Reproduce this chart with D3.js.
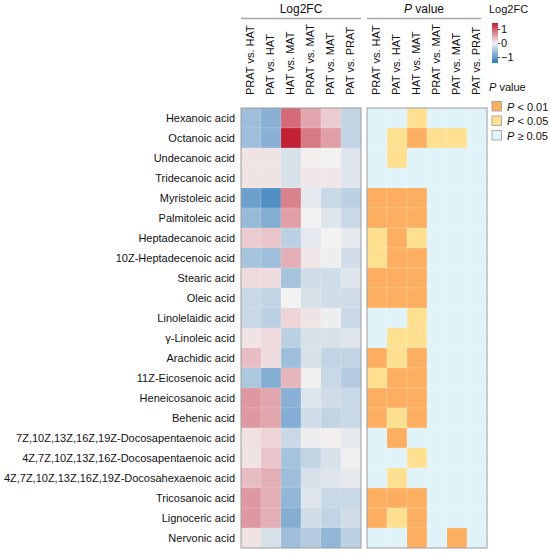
<!DOCTYPE html>
<html>
<head>
<meta charset="utf-8">
<script src="https://cdn.jsdelivr.net/npm/d3@7"></script>
<style>
  body { margin: 0; background: #fff; }
  text { font-family: "Liberation Sans", Arial, sans-serif; fill: #111; }
</style>
</head>
<body>
<svg id="chart" width="550" height="554"></svg>
<script>
/* data */
const acids = [
  "Hexanoic acid", "Octanoic acid", "Undecanoic acid", "Tridecanoic acid",
  "Myristoleic acid", "Palmitoleic acid", "Heptadecanoic acid", "10Z-Heptadecenoic acid",
  "Stearic acid", "Oleic acid", "Linolelaidic acid", "γ-Linoleic acid",
  "Arachidic acid", "11Z-Eicosenoic acid", "Heneicosanoic acid", "Behenic acid",
  "7Z,10Z,13Z,16Z,19Z-Docosapentaenoic acid", "4Z,7Z,10Z,13Z,16Z-Docosapentaenoic acid",
  "4Z,7Z,10Z,13Z,16Z,19Z-Docosahexaenoic acid", "Tricosanoic acid",
  "Lignoceric acid", "Nervonic acid"
];
const comparisons = ["PRAT vs. HAT", "PAT vs. HAT", "HAT vs. MAT", "PRAT vs. MAT", "PAT vs. MAT", "PAT vs. PRAT"];

// log2 fold change, one row per acid, columns follow comparisons
const log2fc = [
  [-0.6, -0.75, 0.9, 0.5, 0.25, -0.35],
  [-0.6, -0.75, 1.4, 0.8, 0.55, -0.35],
  [0.1, 0.1, -0.2, 0.02, 0.0, -0.15],
  [0.1, 0.1, -0.2, 0.08, 0.08, -0.15],
  [-0.95, -1.15, 0.75, -0.1, -0.3, -0.4],
  [-0.65, -0.8, 0.55, 0.0, -0.15, -0.3],
  [0.25, 0.3, -0.4, -0.1, 0.0, -0.1],
  [-0.55, -0.6, 0.45, 0.08, -0.05, -0.25],
  [0.15, 0.15, -0.55, -0.25, -0.25, -0.15],
  [-0.3, -0.35, 0.0, -0.2, -0.25, -0.25],
  [-0.3, -0.4, 0.2, 0.1, -0.05, -0.3],
  [0.1, 0.15, -0.4, -0.2, -0.2, -0.15],
  [0.35, 0.15, -0.6, -0.2, -0.35, -0.35],
  [-0.5, -0.8, 0.4, -0.02, -0.3, -0.45],
  [0.6, 0.5, -0.75, -0.15, -0.25, -0.3],
  [0.6, 0.5, -0.8, -0.25, -0.35, -0.3],
  [0.12, 0.2, -0.3, -0.05, 0.03, -0.1],
  [0.1, 0.3, -0.55, -0.35, -0.2, -0.03],
  [0.35, 0.45, -0.6, -0.2, -0.15, -0.1],
  [0.6, 0.45, -0.7, -0.15, -0.3, -0.3],
  [0.6, 0.45, -0.8, -0.25, -0.35, -0.25],
  [0.1, -0.2, -0.6, -0.45, -0.7, -0.4]
];

// significance class: 2 = P < 0.01, 1 = P < 0.05, 0 = P >= 0.05
const pClass = [
  [0, 0, 1, 0, 0, 0],
  [0, 1, 2, 1, 1, 0],
  [0, 1, 0, 0, 0, 0],
  [0, 0, 0, 0, 0, 0],
  [2, 2, 2, 0, 0, 0],
  [2, 2, 2, 0, 0, 0],
  [1, 2, 1, 0, 0, 0],
  [1, 2, 2, 0, 0, 0],
  [2, 2, 2, 0, 0, 0],
  [2, 2, 2, 0, 0, 0],
  [0, 0, 1, 0, 0, 0],
  [0, 1, 1, 0, 0, 0],
  [2, 1, 2, 0, 0, 0],
  [1, 2, 2, 0, 0, 0],
  [2, 2, 2, 0, 0, 0],
  [2, 1, 2, 0, 0, 0],
  [0, 2, 0, 0, 0, 0],
  [0, 0, 1, 0, 0, 0],
  [0, 1, 0, 0, 0, 0],
  [2, 2, 2, 0, 0, 0],
  [2, 1, 2, 0, 0, 0],
  [0, 0, 2, 0, 2, 0]
];
const pLabels = ["< 0.01", "< 0.05", "≥ 0.05"];
const fcTicks = [-1, 0, 1];

/* layout */
const svg = d3.select("#chart");
const topY = 108, bottomY = 548;
const leftPanel = [241, 361];
const rightPanel = [367, 487];

const y = d3.scaleBand().domain(acids).range([topY, bottomY]);
const xL = d3.scaleBand().domain(comparisons).range(leftPanel);
const xR = d3.scaleBand().domain(comparisons).range(rightPanel);

const fcMax = 1.43;
const color = d3.scaleLinear()
  .domain([-fcMax, 0, fcMax])
  .range(["#2b77ba", "#f3f2f2", "#c11b30"])
  .interpolate(d3.interpolateRgb)
  .clamp(true);
const pColor = d3.scaleOrdinal().domain([2, 1, 0]).range(["#fdae61", "#fee090", "#e0f3f8"]);

const cellsFC = [], cellsP = [];
acids.forEach((a, i) => comparisons.forEach((c, j) => {
  cellsFC.push({ acid: a, comp: c, v: log2fc[i][j] });
  cellsP.push({ acid: a, comp: c, v: pClass[i][j] });
}));

/* heatmaps */
svg.append("g").selectAll("rect").data(cellsFC).join("rect")
  .attr("x", d => xL(d.comp)).attr("y", d => y(d.acid))
  .attr("width", xL.bandwidth()).attr("height", y.bandwidth())
  .attr("fill", d => color(d.v))
  .attr("stroke", "#ffffff").attr("stroke-opacity", 0.25).attr("stroke-width", 0.5);

svg.append("g").selectAll("rect").data(cellsP).join("rect")
  .attr("x", d => xR(d.comp)).attr("y", d => y(d.acid))
  .attr("width", xR.bandwidth()).attr("height", y.bandwidth())
  .attr("fill", d => pColor(d.v))
  .attr("stroke", "#ffffff").attr("stroke-opacity", 0.35).attr("stroke-width", 0.5);

// panel frames
[leftPanel, rightPanel].forEach(p => {
  svg.append("rect")
    .attr("x", p[0]).attr("y", topY)
    .attr("width", p[1] - p[0]).attr("height", bottomY - topY)
    .attr("fill", "none").attr("stroke", "#9c9c9c").attr("stroke-width", 1);
});

/* row labels */
svg.append("g").selectAll("text").data(acids).join("text")
  .attr("x", 235).attr("y", d => y(d) + y.bandwidth() / 2)
  .attr("dy", "0.36em").attr("text-anchor", "end")
  .attr("font-size", 11).text(d => d);

/* column labels */
[xL, xR].forEach(x => {
  svg.append("g").selectAll("text").data(comparisons).join("text")
    .attr("transform", d => `translate(${x(d) + x.bandwidth() / 2 + 3},95) rotate(-90)`)
    .attr("font-size", 11).text(d => d);
});

/* panel headers */
svg.append("line").attr("x1", leftPanel[0]).attr("x2", leftPanel[1])
  .attr("y1", 18.5).attr("y2", 18.5).attr("stroke", "#a8a8a8").attr("stroke-width", 1.5);
svg.append("line").attr("x1", rightPanel[0]).attr("x2", rightPanel[1] - 6)
  .attr("y1", 18.5).attr("y2", 18.5).attr("stroke", "#a8a8a8").attr("stroke-width", 1.5);

svg.append("text").attr("x", (leftPanel[0] + leftPanel[1]) / 2).attr("y", 13)
  .attr("text-anchor", "middle").attr("font-size", 12).text("Log2FC");
const pv = svg.append("text").attr("x", (rightPanel[0] + rightPanel[1]) / 2 - 3).attr("y", 13)
  .attr("text-anchor", "middle").attr("font-size", 12);
pv.append("tspan").attr("font-style", "italic").text("P");
pv.append("tspan").text(" value");

/* colour legend */
const lgX = 492;
svg.append("text").attr("x", 489).attr("y", 13).attr("font-size", 11).text("Log2FC");
const grad = svg.append("defs").append("linearGradient")
  .attr("id", "fcgrad").attr("x1", 0).attr("x2", 0).attr("y1", 1).attr("y2", 0);
d3.range(0, 1.0001, 0.1).forEach(t => {
  grad.append("stop").attr("offset", t).attr("stop-color", color(-fcMax + 2 * fcMax * t));
});
const ly = d3.scaleLinear().domain([-fcMax, fcMax]).range([63, 23]);
svg.append("rect").attr("x", lgX).attr("y", ly(fcMax))
  .attr("width", 6).attr("height", ly(-fcMax) - ly(fcMax))
  .attr("fill", "url(#fcgrad)");
const lAxis = d3.axisRight(ly).tickValues(fcTicks).tickSize(2).tickPadding(1)
  .tickFormat(d => d < 0 ? "−" + Math.abs(d) : d);
const lg = svg.append("g").attr("transform", `translate(${lgX + 6},0)`).call(lAxis);
lg.select(".domain").remove();
lg.selectAll("line").attr("stroke", "#444");
lg.selectAll("text").attr("font-size", 11)
  .attr("font-family", "'Liberation Sans', Arial, sans-serif").attr("fill", "#111");

/* P value legend */
const pl = svg.append("text").attr("x", 489).attr("y", 91).attr("font-size", 11);
pl.append("tspan").attr("font-style", "italic").text("P");
pl.append("tspan").text(" value");

const pItems = svg.append("g").selectAll("g").data([2, 1, 0]).join("g")
  .attr("transform", (d, i) => `translate(${lgX},${101.5 + i * 14.5})`);
pItems.append("rect").attr("width", 9.5).attr("height", 9.5)
  .attr("fill", d => pColor(d)).attr("stroke", "#9c9c9c").attr("stroke-width", 0.8);
const pt = pItems.append("text").attr("x", 15).attr("y", 9).attr("font-size", 11);
pt.append("tspan").attr("font-style", "italic").text("P");
pt.append("tspan").text((d, i) => " " + pLabels[i]);
</script>
</body>
</html>
